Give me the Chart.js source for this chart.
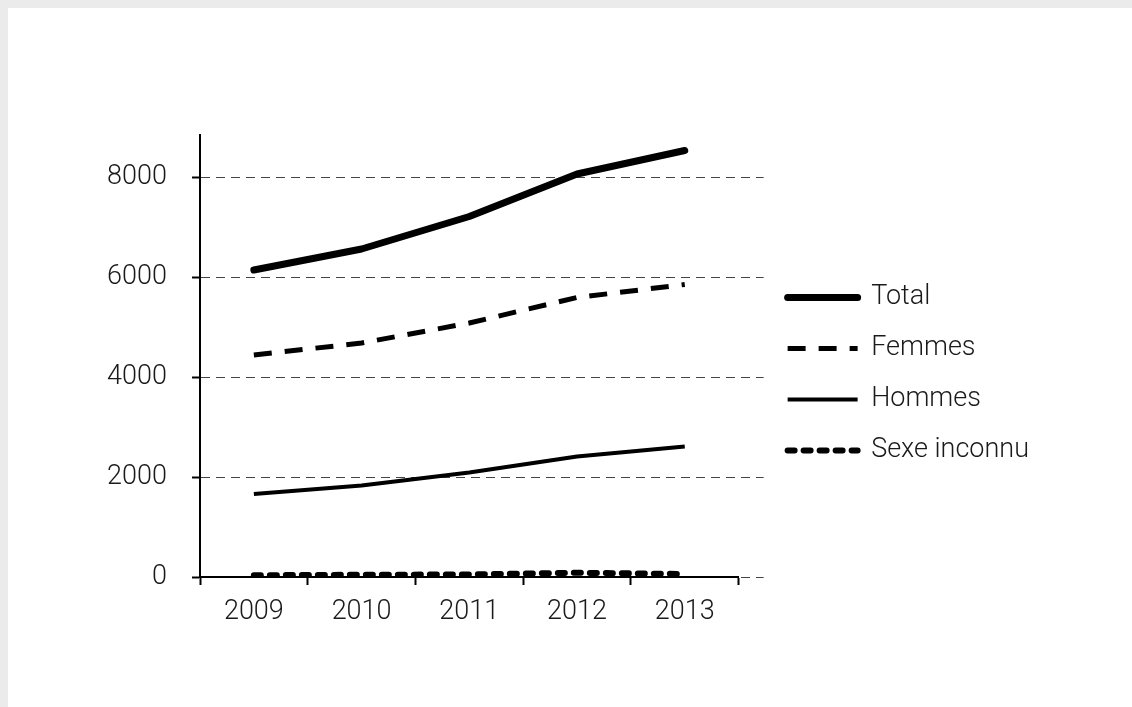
<!DOCTYPE html>
<html>
<head>
<meta charset="utf-8">
<script src="https://cdn.jsdelivr.net/npm/chart.js@4.4.0/dist/chart.umd.min.js"></script>
<style>
  html, body { margin: 0; padding: 0; background: #ebebeb; }
  #box { position: absolute; left: 8px; top: 8px; width: 1124px; height: 699px; background: #fff; }
</style>
</head>
<body>
<div id="box"><canvas id="chart_cases"></canvas></div>
<script>
var years = ['2009', '2010', '2011', '2012', '2013'];
var total = [6140, 6560, 7210, 8060, 8530];
var femmes = [4440, 4680, 5080, 5590, 5850];
var hommes = [1660, 1830, 2090, 2410, 2610];
var inconnu = [35, 45, 50, 85, 60];
var y_ticks = [0, 2000, 4000, 6000, 8000];

Chart.defaults.font.family = 'Roboto';
Chart.defaults.font.size = 27;
Chart.defaults.font.weight = 300;
Chart.defaults.color = '#1a1a1a';

// x axis stops a bit before the end of the dashed grid lines,
// legend block sits a little higher than centred
var tweak_layout = {
  id: 'tweak_layout',
  afterLayout: function(chart) {
    var x = chart.scales.x;
    x.right = chart.chartArea.right - 25;
    x.width = x.right - x.left;
    x.configure();
    chart.legend.top -= 12;
    chart.legend.bottom -= 12;
  }
};

var config_cases = {
  type: 'line',
  data: {
    labels: years,
    datasets: [
      {
        label: 'Total',
        data: total,
        borderColor: '#000',
        borderWidth: 7,
        borderCapStyle: 'round',
        borderJoinStyle: 'round',
      },
      {
        label: 'Femmes',
        data: femmes,
        borderColor: '#000',
        borderWidth: 5,
        borderDash: [18, 13],
        borderJoinStyle: 'round',
      },
      {
        label: 'Hommes',
        data: hommes,
        borderColor: '#000',
        borderWidth: 4,
        borderJoinStyle: 'round',
      },
      {
        label: 'Sexe inconnu',
        data: inconnu,
        borderColor: '#000',
        borderWidth: 6,
        borderDash: [7, 9],
        borderCapStyle: 'round',
      }
    ],
  },
  options: {
    responsive: true,
    maintainAspectRatio: false,
    animation: false,
    elements: {
      point: { radius: 0, hoverRadius: 0 },
      line: { tension: 0, fill: false },
    },
    layout: {
      padding: { left: 72, top: 127, right: 93, bottom: 70 },
    },
    scales: {
      x: {
        offset: true,
        afterFit: function(scale) { scale.height = 60; },
        grid: {
          display: true,
          offset: true,
          drawOnChartArea: false,
          drawTicks: true,
          tickLength: 8,
          tickColor: '#000',
          tickWidth: 2,
        },
        border: { display: true, color: '#000', width: 2 },
        ticks: { padding: 11, maxRotation: 0 },
      },
      y: {
        min: 0,
        max: 8840,
        afterFit: function(scale) { scale.width = 120; },
        afterBuildTicks: function(scale) {
          scale.ticks = y_ticks.map(function(v) { return { value: v }; });
        },
        grid: {
          color: '#444',
          lineWidth: 1,
          drawTicks: true,
          tickLength: 8,
          tickColor: '#000',
          tickWidth: 2,
        },
        border: { display: true, color: '#000', width: 2, dash: [9, 6] },
        ticks: {
          padding: 25,
          callback: function(value) { return String(value); },
        },
      },
    },
    plugins: {
      legend: {
        position: 'right',
        maxWidth: 400,
        labels: {
          usePointStyle: true,
          pointStyle: 'line',
          pointStyleWidth: 70,
          boxHeight: 10,
          padding: 24,
          color: '#1a1a1a',
          generateLabels: function(chart) {
            var items = Chart.defaults.plugins.legend.labels.generateLabels(chart);
            items.forEach(function(item, i) {
              var ds = chart.data.datasets[i];
              item.lineDash = ds.borderDash || [];
              item.lineCap = ds.borderCapStyle || 'butt';
              item.lineWidth = ds.borderWidth;
            });
            return items;
          },
        },
      },
      tooltip: { enabled: false },
    },
  },
  plugins: [tweak_layout],
};

var chart_cases = new Chart(document.getElementById('chart_cases'), config_cases);
</script>
</body>
</html>
